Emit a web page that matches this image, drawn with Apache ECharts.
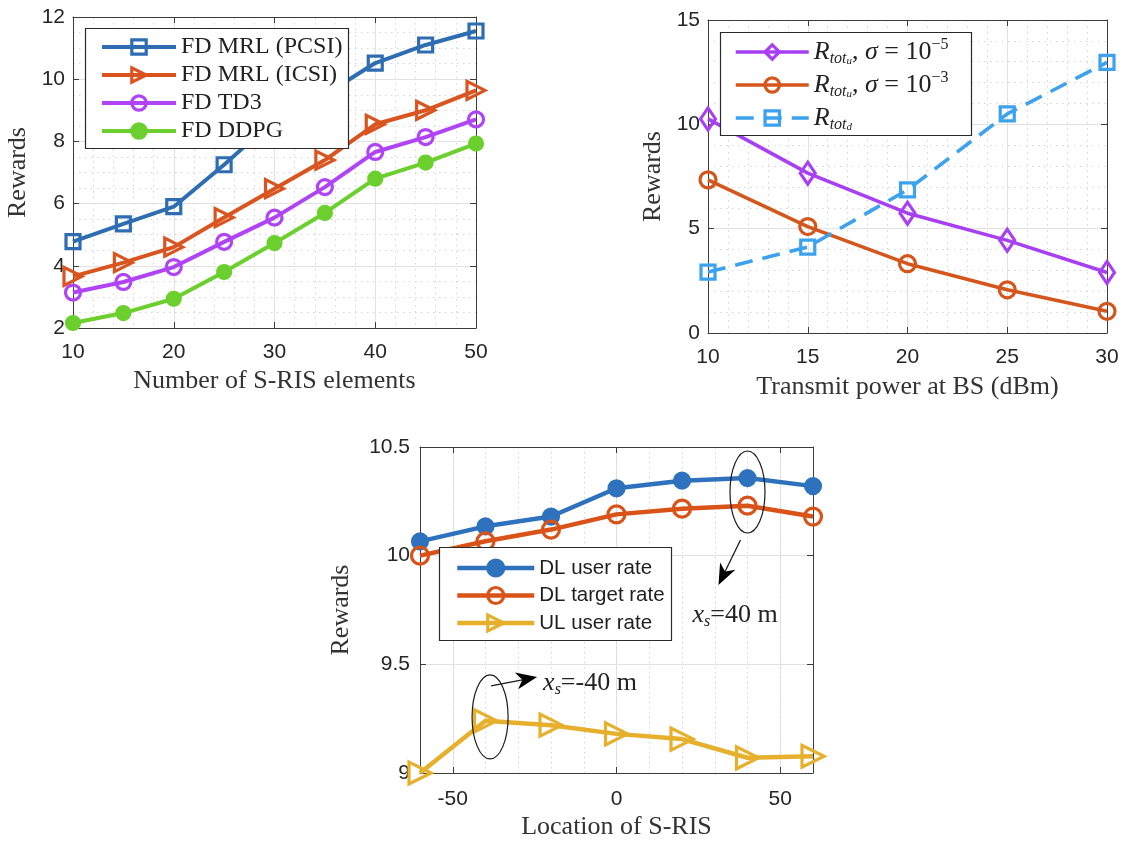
<!DOCTYPE html>
<html>
<head>
<meta charset="utf-8">
<script src="https://cdn.jsdelivr.net/npm/echarts@6/dist/echarts.min.js"></script>
<style>
  html, body { margin: 0; padding: 0; background: #fff; }
  #chart { width: 1146px; height: 843px; }
</style>
</head>
<body>
<div id="chart"></div>
<script>
// ---------- data ----------
// (a) reward vs number of S-RIS elements
const elements = [10, 15, 20, 25, 30, 35, 40, 45, 50];
const mrlPcsi  = [4.78, 5.35, 5.9, 7.25, 8.7, 9.5, 10.52, 11.1, 11.55];
const mrlIcsi  = [3.66, 4.1, 4.6, 5.55, 6.48, 7.4, 8.55, 9.0, 9.64];
const td3      = [3.14, 3.48, 3.96, 4.77, 5.55, 6.53, 7.66, 8.14, 8.71];
const ddpg     = [2.16, 2.48, 2.94, 3.8, 4.73, 5.7, 6.8, 7.32, 7.93];
const elemNames = ['FD MRL (PCSI)', 'FD MRL (ICSI)', 'FD TD3', 'FD DDPG'];

// (b) reward vs transmit power at BS (dBm)
const powerDbm  = [10, 15, 20, 25, 30];
const upSigma5  = [10.26, 7.66, 5.74, 4.44, 2.9];
const upSigma3  = [7.34, 5.1, 3.32, 2.07, 1.04];
const downTotal = [2.92, 4.12, 6.86, 10.5, 12.97];

// (c) reward vs location of S-RIS
const risLocation = [-60, -40, -20, 0, 20, 40, 60];
const dlUser   = [10.066, 10.135, 10.18, 10.31, 10.345, 10.357, 10.32];
const dlTarget = [10.0, 10.066, 10.12, 10.19, 10.216, 10.23, 10.18];
const ulUser   = [9.0, 9.24, 9.22, 9.18, 9.156, 9.07, 9.077];
const locNames = ['DL user rate', 'DL target rate', 'UL user rate'];
const locTicks = [-50, 0, 50];

// ---------- styling ----------
const SANS = '"Liberation Sans", Arial, Helvetica, sans-serif';
const SERIF = '"Liberation Serif", "Times New Roman", serif';
const AXIS_C = '#3c3c3c';
const GRID_C = '#e2e2e2';
const MINOR_C = '#d6d6d6';
const C = {
  blue: '#2f6db3', orange: '#d9541e', purple: '#b044f5', green: '#6bcf2e',
  purple2: '#a83ff2', orange2: '#d4561c', sky: '#3ca2ee',
  blue3: '#2e72be', orange3: '#d95319', yellow: '#e6b02c'
};
const CLEAR = 'rgba(255,255,255,0)';

const zip = (xs, ys) => xs.map((x, i) => [x, ys[i]]);

function axis(o) {
  const a = {
    type: 'value',
    gridIndex: o.grid,
    position: o.position,
    min: o.min, max: o.max, interval: o.interval,
    axisLine: { show: o.line !== false, onZero: false, lineStyle: { color: AXIS_C, width: 1 } },
    axisTick: { show: o.line !== false, inside: true, length: 6, lineStyle: { color: AXIS_C, width: 1 } },
    axisLabel: { show: !!o.labels, margin: o.margin || 12, color: '#262626',
                 fontFamily: SANS, fontSize: 21, showMinLabel: true, showMaxLabel: true },
    splitLine: { show: !!o.split, lineStyle: Object.assign({ color: GRID_C, width: 1 }, o.splitStyle || {}) },
    minorTick: { show: false, splitNumber: o.minor || 5 },
    minorSplitLine: { show: !!o.minor, lineStyle: { color: MINOR_C, width: 1, type: [1.5, 4.5] } }
  };
  if (o.ticks) {
    a.axisTick.customValues = o.ticks;
    a.axisLabel.customValues = o.ticks;
  }
  if (o.name) {
    a.name = o.name;
    a.nameLocation = 'middle';
    a.nameGap = o.nameGap;
    a.nameTextStyle = { fontFamily: SERIF, fontSize: 26, color: '#333' };
  }
  return a;
}

function lineSeries(name, xi, data, color, width, symbol, size, filled, extra) {
  return Object.assign({
    type: 'line', name: name, xAxisIndex: xi, yAxisIndex: xi,
    data: data, symbol: symbol, symbolSize: size, showSymbol: true,
    lineStyle: { color: color, width: width },
    itemStyle: { color: filled ? color : CLEAR, borderColor: color, borderWidth: 3.2 },
    emphasis: { disabled: true }
  }, extra || {});
}

const xAxes = [
  axis({ grid: 0, position: 'bottom', min: 10, max: 50, interval: 10, labels: true, margin: 14,
         split: true, minor: 5, name: 'Number of S-RIS elements', nameGap: 40 }),
  axis({ grid: 0, position: 'top', min: 10, max: 50, interval: 10 }),
  axis({ grid: 1, position: 'bottom', min: 10, max: 30, interval: 5, labels: true, margin: 14,
         split: true, minor: 5, name: 'Transmit power at BS (dBm)', nameGap: 41 }),
  axis({ grid: 1, position: 'top', min: 10, max: 30, interval: 5 }),
  axis({ grid: 2, position: 'bottom', min: -60, max: 60, interval: 10, labels: true, margin: 16,
         split: true, ticks: locTicks, name: 'Location of S-RIS', nameGap: 41 }),
  axis({ grid: 2, position: 'top', min: -60, max: 60, interval: 10, ticks: locTicks }),
  // dotted lines every 10 m
  axis({ grid: 2, position: 'bottom', min: -60, max: 60, interval: 10, line: false,
         split: true, splitStyle: { color: MINOR_C, type: [1.5, 3.5] } })
];
const yAxes = [
  axis({ grid: 0, position: 'left', min: 2, max: 12, interval: 2, labels: true, margin: 8,
         split: true, minor: 4, name: 'Rewards', nameGap: 42 }),
  axis({ grid: 0, position: 'right', min: 2, max: 12, interval: 2 }),
  axis({ grid: 1, position: 'left', min: 0, max: 15, interval: 5, labels: true, margin: 8,
         split: true, minor: 5, name: 'Rewards', nameGap: 42 }),
  axis({ grid: 1, position: 'right', min: 0, max: 15, interval: 5 }),
  axis({ grid: 2, position: 'left', min: 9, max: 10.5, interval: 0.5, labels: true, margin: 10,
         split: true, name: 'Rewards', nameGap: 66 }),
  axis({ grid: 2, position: 'right', min: 9, max: 10.5, interval: 0.5 }),
  axis({ grid: 2, position: 'left', min: 9, max: 10.5, interval: 0.5, line: false })
];

const series = [
  lineSeries(elemNames[0], 0, zip(elements, mrlPcsi), C.blue, 4, 'rect', 14, false),
  lineSeries(elemNames[1], 0, zip(elements, mrlIcsi), C.orange, 4, 'triangle', 18, false, { symbolRotate: -90 }),
  lineSeries(elemNames[2], 0, zip(elements, td3), C.purple, 4, 'circle', 15, false),
  lineSeries(elemNames[3], 0, zip(elements, ddpg), C.green, 4, 'circle', 13, true),

  lineSeries('up5', 2, zip(powerDbm, upSigma5), C.purple2, 3.5, 'diamond', [15, 22], false),
  lineSeries('up3', 2, zip(powerDbm, upSigma3), C.orange2, 3.5, 'circle', 16, false),
  Object.assign(lineSeries('down', 2, zip(powerDbm, downTotal), C.sky, 3.5, 'rect', 14, false),
    { lineStyle: { color: C.sky, width: 3.6, type: [18, 10] } }),

  lineSeries(locNames[0], 4, zip(risLocation, dlUser), C.blue3, 4.5, 'circle', 15, true),
  lineSeries(locNames[1], 4, zip(risLocation, dlTarget), C.orange3, 4.5, 'circle', 17, false),
  lineSeries(locNames[2], 4, zip(risLocation, ulUser), C.yellow, 4.5, 'triangle', 22, false, { symbolRotate: -90 })
];

const mathRich = {
  r:   { fontFamily: SERIF, fontStyle: 'italic', fontSize: 26, lineHeight: 30, color: '#222' },
  sub: { fontFamily: SERIF, fontStyle: 'italic', fontSize: 16, lineHeight: 16, verticalAlign: 'bottom', color: '#222' },
  ss:  { fontFamily: SERIF, fontStyle: 'italic', fontSize: 11, lineHeight: 6, verticalAlign: 'bottom', color: '#222' },
  t:   { fontFamily: SERIF, fontSize: 26, lineHeight: 30, color: '#222' },
  sg:  { fontFamily: SERIF, fontStyle: 'italic', fontSize: 26, lineHeight: 30, color: '#222' },
  sup: { fontFamily: SERIF, fontSize: 16, lineHeight: 12, verticalAlign: 'top', color: '#222' }
};
const powerLegend = {
  up5: '{r|R}{sub|tot}{ss|u}{t|, }{sg|σ}{t| = 10}{sup|−5}',
  up3: '{r|R}{sub|tot}{ss|u}{t|, }{sg|σ}{t| = 10}{sup|−3}',
  down: '{r|R}{sub|tot}{ss|d}'
};

const legendBoxes = [
  [85, 28, 263, 120],
  [720, 32, 251, 103],
  [439, 547, 232, 93]
].map(b => ({
  type: 'rect', z: 5,
  shape: { x: b[0] + 0.5, y: b[1] + 0.5, width: b[2], height: b[3] },
  style: { fill: '#fff', stroke: '#2a2a2a', lineWidth: 1.2 }
}));

const legendItem = { borderWidth: 3.2 };

const option = {
  animation: false,
  backgroundColor: '#fff',
  grid: [
    { left: 73, top: 17, width: 403, height: 311, outerBoundsMode: 'none' },
    { left: 708, top: 20, width: 399, height: 313, outerBoundsMode: 'none' },
    { left: 420, top: 447, width: 393, height: 326, outerBoundsMode: 'none' }
  ],
  xAxis: xAxes,
  yAxis: yAxes,
  legend: [
    { data: elemNames, orient: 'vertical', left: 95, top: 30, itemWidth: 74, itemHeight: 18,
      itemGap: 4, selectedMode: false, z: 6, lineStyle: { width: 4 }, itemStyle: legendItem,
      textStyle: { fontFamily: SERIF, fontSize: 24, lineHeight: 24, color: '#222' } },
    { data: ['up5', 'up3', 'down'], orient: 'vertical', left: 729, top: 32, itemWidth: 73, itemHeight: 18,
      itemGap: 3, selectedMode: false, z: 6, lineStyle: { width: 3.5 }, itemStyle: legendItem,
      formatter: n => powerLegend[n],
      textStyle: { fontFamily: SERIF, fontSize: 26, lineHeight: 30, color: '#222', rich: mathRich } },
    { data: locNames, orient: 'vertical', left: 450, top: 551, itemWidth: 77, itemHeight: 20,
      itemGap: 3.5, selectedMode: false, z: 6, lineStyle: { width: 4.5 }, itemStyle: legendItem,
      textStyle: { fontFamily: SANS, fontSize: 20.5, lineHeight: 24, color: '#1e1e1e' } }
  ],
  series: series,
  graphic: legendBoxes
};

const chart = echarts.init(document.getElementById('chart'), null, { renderer: 'canvas' });
chart.setOption(option);

// ---------- annotations on the location panel ----------
// ellipse centre in data units, other parts as pixel offsets from that centre
const notes = [
  { at: [40, 10.293], rx: 17.5, ry: 41, from: [-7, 48], to: [-29, 93], label: '=40 m', lx: -55, ly: 123 },
  { at: [-38.6, 9.258], rx: 18, ry: 42, from: [1, -31], to: [47, -40], label: '=-40 m', lx: 53, ly: -34 }
];

function arrowHead(x1, y1, x2, y2, L, W, notch) {
  const dx = x2 - x1, dy = y2 - y1, len = Math.hypot(dx, dy);
  const ux = dx / len, uy = dy / len, nx = -uy, ny = ux;
  const bx = x2 - ux * L, by = y2 - uy * L;
  return {
    pts: [[x2, y2], [bx + nx * W, by + ny * W], [x2 - ux * (L - notch), y2 - uy * (L - notch)], [bx - nx * W, by - ny * W]],
    neck: [x2 - ux * (L - notch), y2 - uy * (L - notch)]
  };
}

const extra = [];
notes.forEach(n => {
  const c = chart.convertToPixel({ xAxisIndex: 4, yAxisIndex: 4 }, n.at);
  extra.push({ type: 'ellipse', z: 20, shape: { cx: c[0], cy: c[1], rx: n.rx, ry: n.ry },
               style: { fill: 'none', stroke: '#1a1a1a', lineWidth: 1.2 } });
  const x1 = c[0] + n.from[0], y1 = c[1] + n.from[1], x2 = c[0] + n.to[0], y2 = c[1] + n.to[1];
  const h = arrowHead(x1, y1, x2, y2, 21, 8.5, 6);
  extra.push({ type: 'line', z: 20, shape: { x1: x1, y1: y1, x2: h.neck[0], y2: h.neck[1] },
               style: { stroke: '#1a1a1a', lineWidth: 1.3 } });
  extra.push({ type: 'polygon', z: 20, shape: { points: h.pts }, style: { fill: '#000' } });
  extra.push({ type: 'text', z: 20, x: c[0] + n.lx, y: c[1] + n.ly,
    style: {
      text: '{v|x}{s|s}{e|' + n.label + '}',
      verticalAlign: 'middle', align: 'left',
      rich: {
        v: { fontFamily: SERIF, fontStyle: 'italic', fontSize: 26, lineHeight: 30, fill: '#222' },
        s: { fontFamily: SERIF, fontStyle: 'italic', fontSize: 16, lineHeight: 16, verticalAlign: 'bottom', fill: '#222' },
        e: { fontFamily: SERIF, fontSize: 26, lineHeight: 30, fill: '#222' }
      }
    } });
});
chart.setOption({ graphic: legendBoxes.concat(extra) });
</script>
</body>
</html>
